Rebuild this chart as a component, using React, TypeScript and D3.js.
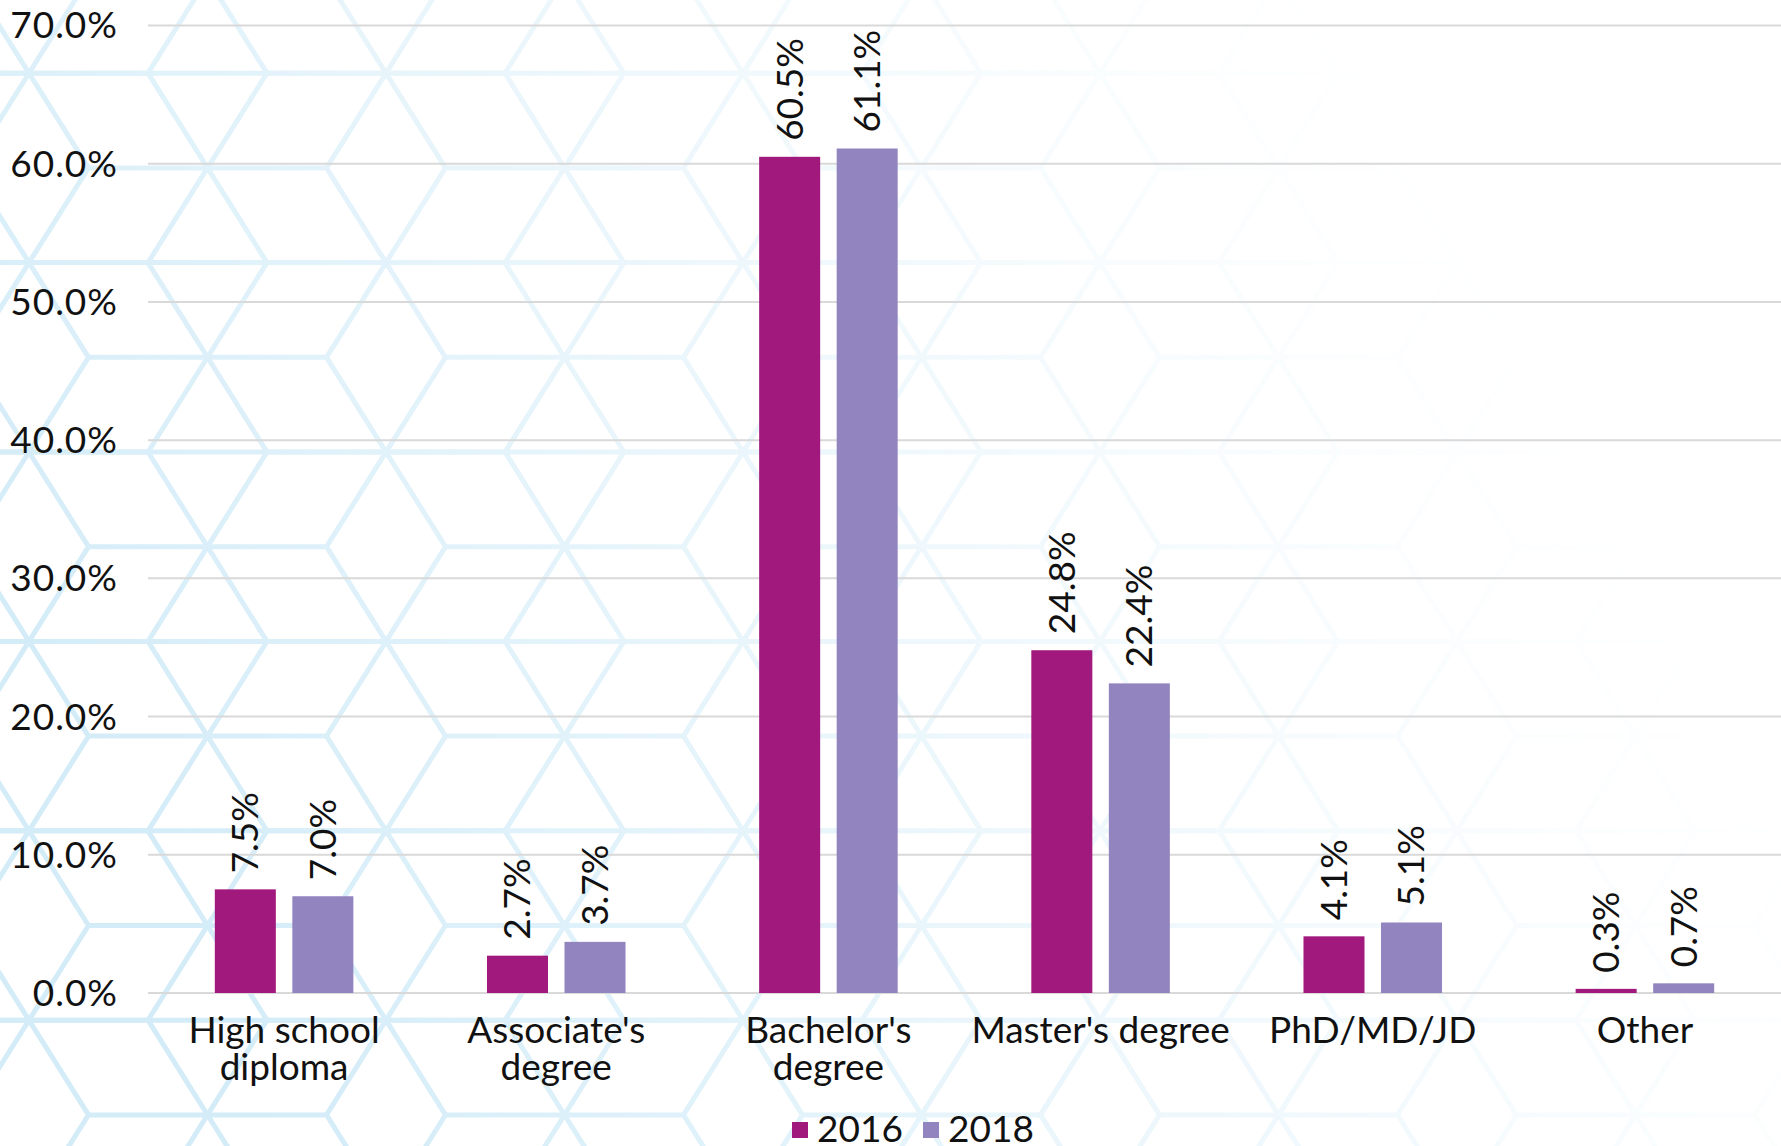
import React from "react";
import * as d3 from "d3";

// Share of respondents by highest education level, two survey years
const categories = [
  "High school\ndiploma",
  "Associate's\ndegree",
  "Bachelor's\ndegree",
  "Master's degree",
  "PhD/MD/JD",
  "Other",
];
const years = ["2016", "2018"];
const values2016 = [7.5, 2.7, 60.5, 24.8, 4.1, 0.3];
const values2018 = [7.0, 3.7, 61.1, 22.4, 5.1, 0.7];
const yTicks = [0, 10, 20, 30, 40, 50, 60, 70];

const colors: Record<string, string> = { "2016": "#A1197D", "2018": "#9284BE" };

const W = 1781;
const H = 1146;
const FONT = "Lato, 'Open Sans', sans-serif";
const FS = 37;

// Decorative honeycomb-style lattice behind the chart
function latticeSegments() {
  const a = 119; // horizontal lattice step
  const h = 94.7; // row step
  const x0 = 29;
  const y0 = 452;
  const segs: [number, number, number, number][] = [];
  const centers: [number, number][] = [];
  for (let m = -4; m <= 6; m++) {
    const yb = y0 + 2 * h * m;
    const ya = yb - h;
    // continuous horizontal rows
    segs.push([0, yb, W, yb]);
    for (let k = -1; k <= 6; k++) {
      centers.push([x0 + 3 * a * k, yb]);
      centers.push([x0 + 1.5 * a + 3 * a * k, ya]);
    }
  }
  for (const [cx, cy] of centers) {
    segs.push([cx - a, cy, cx + a, cy]);
    segs.push([cx - a / 2, cy - h, cx + a / 2, cy + h]);
    segs.push([cx + a / 2, cy - h, cx - a / 2, cy + h]);
  }
  return segs;
}

export default function App() {
  const plotLeft = 148;
  const plotRight = W;
  const y = d3.scaleLinear().domain([0, 70]).range([993, 25.5]);

  const x0 = d3
    .scaleBand<string>()
    .domain(categories)
    .range([plotLeft, plotRight])
    .paddingInner(0.491)
    .paddingOuter(0.2455);
  const x1 = d3
    .scaleBand<string>()
    .domain(years)
    .range([0, x0.bandwidth()])
    .paddingInner(0.213);

  const series: Record<string, number[]> = { "2016": values2016, "2018": values2018 };
  const segs = latticeSegments();
  const fmt = (v: number) => d3.format(".1f")(v) + "%";

  return (
    <svg
      width={W}
      height={H}
      style={{ position: "absolute", left: 0, top: 0, display: "block", background: "#fff" }}
      fontFamily={FONT}
    >
      <defs>
        <linearGradient id="fadeGrad" gradientUnits="userSpaceOnUse" x1={100} y1={800} x2={1400} y2={100}>
          <stop offset="0" stopColor="#fff" stopOpacity={1} />
          <stop offset="0.4" stopColor="#fff" stopOpacity={0.55} />
          <stop offset="0.8" stopColor="#fff" stopOpacity={0.14} />
          <stop offset="1" stopColor="#fff" stopOpacity={0} />
        </linearGradient>
        <mask id="fadeMask" maskUnits="userSpaceOnUse" x={0} y={0} width={W} height={H}>
          <rect x={0} y={0} width={W} height={H} fill="url(#fadeGrad)" />
        </mask>
      </defs>
      <rect x={0} y={0} width={W} height={H} fill="#fff" />
      <g mask="url(#fadeMask)" stroke="#d3ecf8" strokeWidth={5} fill="none">
        {segs.map((s, i) => (
          <line key={i} x1={s[0]} y1={s[1]} x2={s[2]} y2={s[3]} />
        ))}
      </g>

      {/* gridlines and y tick labels */}
      {yTicks.map((t) => (
        <g key={t}>
          <line x1={plotLeft} x2={plotRight} y1={y(t)} y2={y(t)} stroke="#d9d9d9" strokeWidth={2} />
          <text x={118} y={y(t)} dy="0.35em" textAnchor="end" fontSize={FS} letterSpacing={1} fill="#111">
            {fmt(t)}
          </text>
        </g>
      ))}

      {/* bars with rotated value labels */}
      {categories.map((c, ci) => (
        <g key={c} transform={`translate(${x0(c)},0)`}>
          {years.map((yr) => {
            const v = series[yr][ci];
            const bx = x1(yr) as number;
            const cx = bx + x1.bandwidth() / 2;
            const top = y(v);
            return (
              <g key={yr}>
                <rect x={bx} y={top} width={x1.bandwidth()} height={y(0) - top} fill={colors[yr]} />
                <text
                  transform={`translate(${cx},${top - 16}) rotate(-90)`}
                  dy="0.35em"
                  textAnchor="start"
                  fontSize={FS}
                  fill="#111"
                >
                  {fmt(v)}
                </text>
              </g>
            );
          })}
        </g>
      ))}

      {/* category labels */}
      {categories.map((c) => {
        const cx = (x0(c) as number) + x0.bandwidth() / 2;
        return (
          <text key={c} x={cx} y={1043} textAnchor="middle" fontSize={FS} fill="#111">
            {c.split("\n").map((line, li) => (
              <tspan key={li} x={cx} dy={li === 0 ? 0 : 37}>
                {line}
              </tspan>
            ))}
          </text>
        );
      })}

      {/* legend */}
      {years.map((yr, i) => {
        const lx = 792 + i * 131;
        return (
          <g key={yr}>
            <rect x={lx} y={1122} width={16} height={16} fill={colors[yr]} />
            <text x={lx + 25} y={1142} fontSize={FS} fill="#111">
              {yr}
            </text>
          </g>
        );
      })}
    </svg>
  );
}
